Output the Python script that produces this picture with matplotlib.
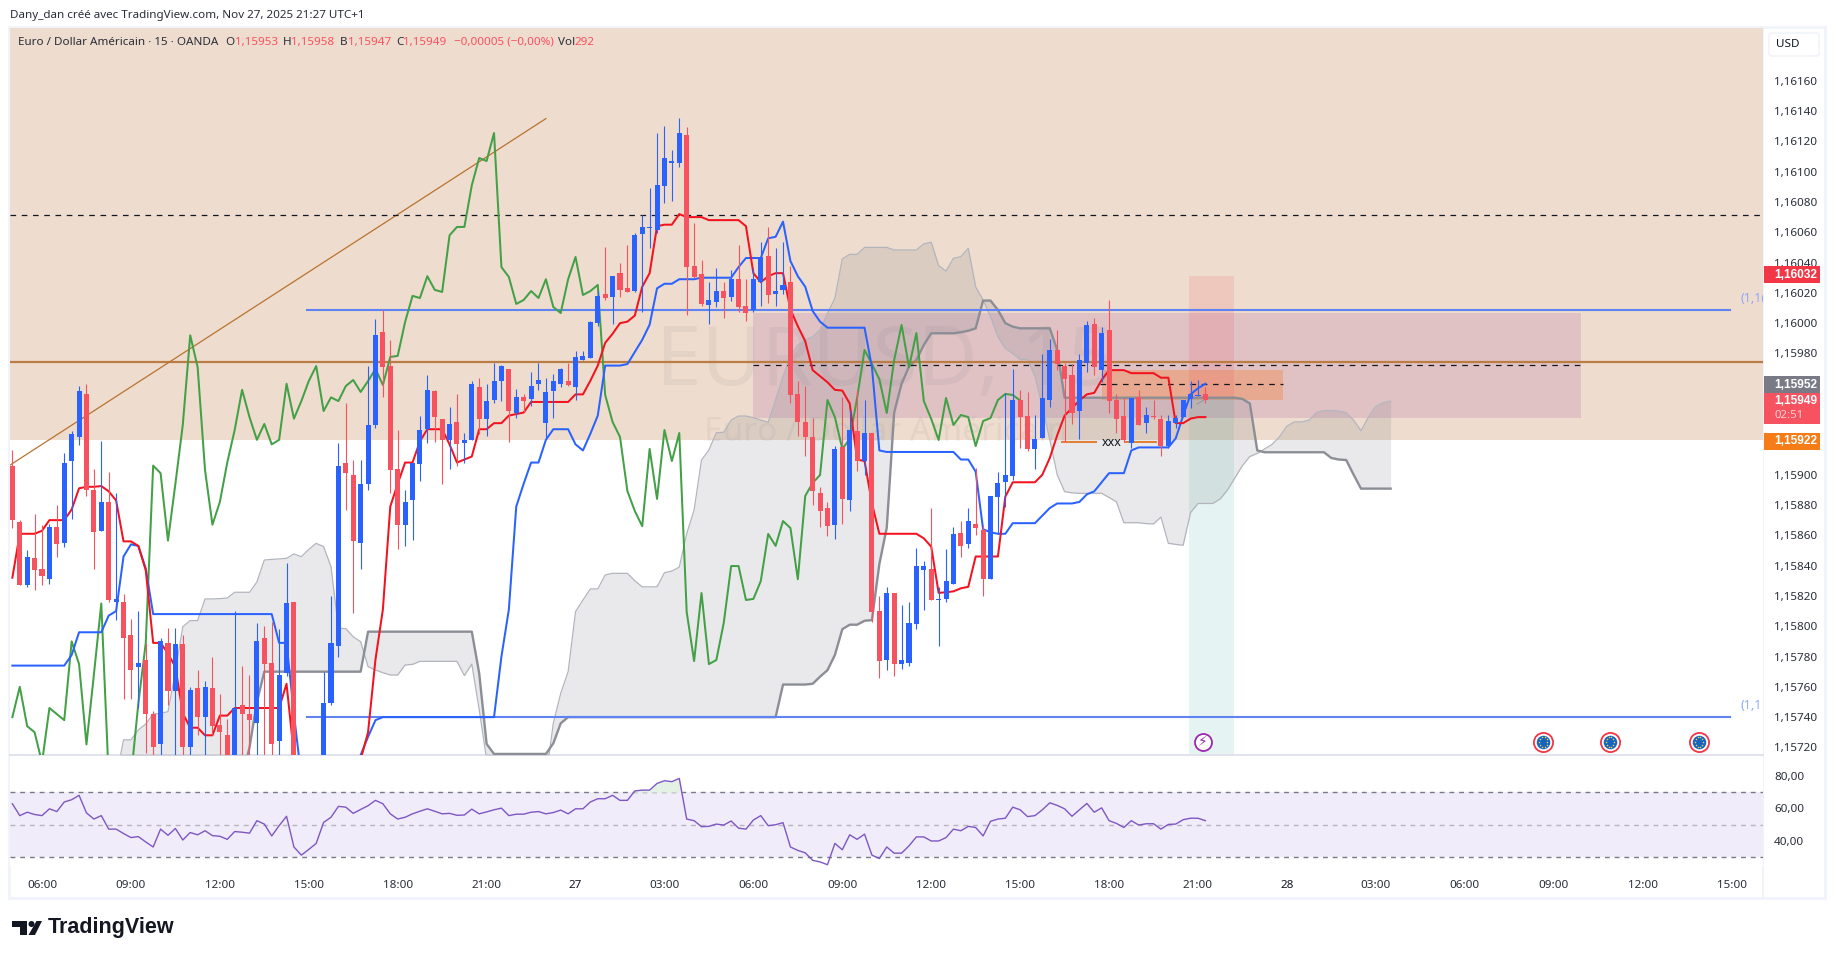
import matplotlib
matplotlib.use("Agg")
import matplotlib.pyplot as plt
import numpy as np
from matplotlib.patches import Rectangle, Polygon, Circle, FancyBboxPatch

plt.rcParams["font.family"] = ["Noto Sans", "DejaVu Sans"]

# prices are in points: 15906 means 1,15906. First bar is index -4, index 0 is 06:00
opens = [15906, 15869, 15827, 15845, 15838, 15831, 15865.5, 15855, 15909, 15925,
         15953, 15890, 15863, 15882, 15816, 15816, 15794, 15773, 15778, 15742,
         15722, 15789, 15757, 15788, 15720, 15759, 15740, 15759, 15735, 15728,
         15710, 15748, 15742, 15736, 15792, 15776, 15724, 15769, 15816, 15700,
         15690, 15695, 15700, 15749, 15787, 15908, 15900, 15855, 15894, 15933,
         15994, 15972, 15904, 15867, 15883, 15907, 15930, 15955, 15937, 15923,
         15935, 15921, 15923, 15958, 15937, 15949, 15962, 15970, 15941, 15951,
         15950, 15960, 15934, 15955, 15960, 15962, 15958, 15976, 15977, 16000,
         16019, 16017, 16033, 16023, 16021, 16059, 16063, 16061.5, 16090.5, 16106,
         16106, 16124, 16038, 16032.5, 16012, 16014, 16021, 16017, 16029, 16011,
         16009, 16027, 16044, 16019, 16022, 16027, 15953, 15935, 15925, 15888,
         15878, 15867, 15918, 15883, 15929, 15909, 15927.5, 15810, 15778, 15822,
         15775, 15776, 15801.5, 15837, 15838, 15817, 15818, 15828, 15861.5, 15854,
         15867.5, 15863.5, 15831, 15885, 15895, 15899, 15949, 15939, 15917, 15924,
         15949, 15982, 15972, 15966, 15942, 15974, 15999.5, 15969, 15995.5, 15949,
         15939, 15921, 15951, 15934, 15939, 15937, 15919, 15934, 15938, 15950, 15952, 15953]
closes = [15870, 15827, 15846, 15837, 15833, 15865.5, 15854.5, 15908, 15927, 15955,
          15890, 15862, 15882, 15817, 15818, 15792, 15771, 15776, 15742, 15720,
          15790, 15757, 15788, 15720, 15758, 15740, 15760, 15734, 15730, 15710,
          15746, 15742, 15738, 15790, 15775, 15722, 15768, 15815, 15700, 15690,
          15695, 15700, 15749, 15789, 15906, 15901, 15856.5, 15894, 15933, 15992,
          15971, 15903, 15867, 15882, 15908, 15929.5, 15956, 15938, 15923, 15933.5,
          15920, 15923, 15960, 15937, 15948.6, 15961.8, 15971.7, 15942, 15951, 15948.6,
          15958.5, 15962.5, 15954.6, 15961.8, 15969.8, 15959.2, 15977.7, 15978.4, 16000.8, 16018,
          16016.6, 16031, 16022, 16020.6, 16058, 16063.5, 16063.5, 16091, 16109, 16107,
          16125.5, 16037, 16030.5, 16012.7, 16015.3, 16021.2, 16016.6, 16029, 16010.7, 16006.7,
          16029, 16043.7, 16018.6, 16021.2, 16025.2, 15952.6, 15934.8, 15924.9, 15889.2, 15876,
          15866, 15917, 15884, 15929.5, 15909, 15927.5, 15809.4, 15777, 15821.9, 15775,
          15777.7, 15802.1, 15839.7, 15839.7, 15817.3, 15818, 15829.8, 15860.9, 15853, 15869.4,
          15864.8, 15831, 15886, 15894.5, 15899.8, 15949.3, 15938, 15917, 15923.6, 15950.6,
          15982.3, 15973, 15963, 15940.7, 15975.7, 15998.8, 15971, 15993.5, 15948.6, 15936.8,
          15922.9, 15950.6, 15932.8, 15939.4, 15938, 15918.9, 15935.4, 15937.4, 15949.3, 15953.3, 15952.6, 15949]
highs = [15916, 15870, 15850, 15874, 15867, 15867.5, 15880, 15914, 15929, 15958.5,
         15960, 15904, 15922, 15902, 15888, 15821, 15805, 15810, 15789, 15744,
         15792, 15799, 15799, 15794, 15760, 15771, 15764, 15780, 15755, 15739,
         15810, 15774, 15768, 15802, 15800, 15803, 15798, 15842, 15816, 15702,
         15697, 15702, 15770, 15820, 15921, 15947, 15910, 15910, 15972, 16002.7,
         16009, 15989, 15929.5, 15890, 15908, 15939, 15966, 15956, 15937, 15944.7,
         15953, 15927.5, 15962, 15964, 15960, 15973.7, 15972.4, 15970, 15956.6, 15953,
         15968, 15973.7, 15963.8, 15966.5, 15970.4, 15973.7, 15981.6, 15981.6, 16001.4, 16021,
         16050, 16031, 16039.7, 16051.6, 16059.5, 16071.4, 16089, 16125.5, 16130, 16114.3,
         16135.4, 16129.5, 16066, 16041.7, 16027.2, 16036.4, 16027.2, 16035, 16051.6, 16029,
         16036.4, 16053.6, 16063.5, 16049.6, 16053.6, 16037.7, 15961.8, 15958.5, 15937.4, 15891.9,
         15882, 15919, 15951.3, 15942.7, 15955.9, 15949.3, 15927.5, 15820, 15825.9, 15821.9,
         15814, 15816, 15851.6, 15843, 15878, 15825.9, 15851, 15865.5, 15869.4, 15878,
         15904.4, 15866.8, 15886, 15901.8, 15953.7, 15969.8, 15955.9, 15954.6, 15939.4, 15979.7,
         15989.6, 15995.5, 15973.7, 15973, 15979.7, 16001.4, 16003.4, 15997.5, 16015.3, 15953.3,
         15950.6, 15950.6, 15955.9, 15944.7, 15949.3, 15939.4, 15939.4, 15939.4, 15949.3, 15961.8, 15962.5, 15958]
lows = [15865, 15827, 15826, 15824, 15827, 15828, 15846, 15852, 15871, 15919.6,
        15886, 15838, 15863, 15816, 15804, 15752, 15752, 15746, 15716, 15715,
        15715, 15748, 15715, 15715, 15715, 15728, 15715, 15728, 15715, 15705,
        15705, 15710, 15710, 15710, 15710, 15710, 15710, 15767, 15695, 15685,
        15685, 15690, 15695, 15748, 15780, 15877, 15809, 15838, 15890, 15931,
        15951, 15888, 15851, 15853, 15857, 15896, 15921, 15921.6, 15894, 15904,
        15905.7, 15907.7, 15923, 15927, 15925.5, 15947, 15948.6, 15921.6, 15937.4, 15941.4,
        15945.3, 15956, 15923.6, 15937.4, 15957.9, 15958.5, 15949.3, 15975.7, 15977, 15998,
        16015.3, 15999.5, 16017, 16020.6, 16020.6, 16007.4, 16049.6, 16059.5, 16079.3, 16080.6,
        16103.1, 16005.4, 16030, 16011.3, 15999.5, 16010.7, 16003.4, 16014.6, 16007.4, 16001.4,
        16007.4, 16011.3, 16013.3, 16011.3, 16019.3, 15947.3, 15925.5, 15912.3, 15880, 15865.5,
        15859.5, 15857.6, 15867.5, 15876, 15902.4, 15899.8, 15802.8, 15765.8, 15771, 15767,
        15771.8, 15773.7, 15798, 15810.7, 15817.3, 15786.9, 15816, 15827.9, 15845.7, 15851.6,
        15860, 15820, 15831, 15860.9, 15878.9, 15896.5, 15917.6, 15915.6, 15903.8, 15924.2,
        15944.7, 15969.1, 15921.6, 15933.5, 15923.6, 15967.8, 15965.8, 15961.2, 15940.7, 15927.5,
        15921.6, 15917.6, 15932.8, 15927.5, 15936.8, 15912.3, 15917.6, 15930.8, 15938, 15944, 15952, 15947]

tenkan = [15832, 15861, 15861, 15861, 15863, 15870, 15870, 15870, 15877, 15891,
          15892, 15892, 15892.5, 15889, 15883, 15856, 15856, 15853, 15837, 15789,
          15789, 15782, 15773, 15742.5, 15733, 15733, 15728, 15728, 15741, 15741,
          15746, 15746, 15746, 15746, 15746, 15746, 15746, 15762, 15715, 15700,
          15700, 15700, 15700, 15700, 15700, 15700, 15700, 15712, 15730, 15778,
          15811, 15879, 15894, 15908, 15908, 15922, 15930, 15930, 15930, 15920,
          15908, 15910, 15912, 15930, 15930, 15934, 15934, 15939, 15940, 15941,
          15948, 15948, 15948, 15948, 15948, 15948, 15953, 15953, 15962, 15972,
          15987, 15993, 16000, 16001, 16005, 16024, 16033, 16064, 16065, 16065,
          16072, 16070, 16070, 16070, 16068, 16068, 16068, 16068, 16068, 16064,
          16033, 16027, 16031, 16033, 16033, 16009, 15998, 15988, 15969, 15965,
          15961, 15956, 15955.5, 15947, 15910, 15909, 15881, 15861, 15861, 15861,
          15861, 15861, 15861, 15858, 15852.5, 15822, 15822.4, 15823, 15825, 15826,
          15846, 15846, 15846, 15846, 15885.5, 15895, 15895, 15895, 15895, 15900,
          15911, 15926, 15939, 15944, 15949, 15953, 15954, 15962.5, 15969, 15969,
          15969, 15967, 15967, 15967, 15967, 15964, 15964, 15934, 15934, 15937, 15938, 15938]
kijun = [15774, 15774, 15774, 15774, 15774, 15774, 15774, 15774, 15781, 15796,
         15796, 15796, 15796, 15807, 15810, 15846, 15854, 15853, 15838] + [15808] * 17 + [
         15789, 15789, 15742] + [15700] * 8 + [15715, 15727, 15738] + [15740] * 16 + [
         15780, 15811, 15879, 15894, 15908, 15908, 15923, 15930, 15930, 15930,
         15920, 15916, 15927, 15939, 15972, 15972, 15972, 15973, 15981, 15989,
         15999, 16023, 16026, 16026, 16029, 16029, 16029, 16030, 16030, 16030,
         16030, 16030, 16037, 16043, 16043, 16043, 16056, 16057, 16067, 16041,
         16031, 16024, 16008, 16001, 15997, 15997, 15997, 15997, 15997, 15997,
         15971, 15916] + [15915] * 10 + [
         15910, 15910, 15902, 15864, 15862, 15861, 15861, 15868, 15868, 15868,
         15868, 15873, 15878, 15881, 15881, 15881, 15882, 15887, 15889, 15895,
         15901, 15901, 15901, 15916, 15918, 15918, 15918, 15918, 15918, 15924,
         15939, 15953, 15957, 15960]

# cloud spans start at index 9 and run 25 bars past the last candle
span_a = [15690, 15700, 15725, 15725, 15731.5, 15735.5, 15742, 15742.5, 15743.6, 15770,
          15799.7, 15803.7, 15803.7, 15818, 15818, 15818.2, 15818.6, 15822.4, 15822.4, 15822.4,
          15829.2, 15843.7, 15844.1, 15844.4, 15844.8, 15847.7, 15845.9, 15850.7, 15854.7, 15852.5,
          15839.3, 15798.6, 15798.4, 15793, 15789.8, 15773.3, 15771.1, 15769.3, 15767.8, 15767.8,
          15774.4, 15774.8, 15776.8, 15776.8, 15776.8, 15776.8, 15776.8, 15776.8, 15767.4, 15775,
          15745, 15712, 15700, 15700, 15700, 15700, 15700, 15700, 15700, 15700,
          15735.9, 15755.7, 15770, 15809.6, 15817.3, 15824.6, 15824.6, 15833.8, 15834.9, 15834.9,
          15834.9, 15830, 15826, 15826, 15826, 15835.3, 15836.4, 15839, 15861, 15876.7,
          15909.7, 15916.3, 15927.7, 15928, 15936, 15938.7, 15938.7, 15937.6, 15936, 15934.6,
          15949.3, 15964.7, 15977.9, 15985.6, 15988.9, 15991, 15995.5, 16006.5, 16016.4, 16042.4,
          16045.4, 16045.4, 16050, 16050, 16050, 16050, 16048.3, 16048.3, 16048.3, 16048.3,
          16052.3, 16053.4, 16038, 16034.4, 16042.8, 16043.9, 16049.4, 16024, 16015.3, 16004.3,
          15991, 15983.4, 15980, 15976, 15976, 15965, 15945, 15923, 15900, 15888.8,
          15888, 15887.7, 15887.7, 15887.7, 15887.7, 15885, 15882, 15868.3, 15868.3, 15868.3,
          15867.7, 15867.5, 15872, 15854.7, 15854, 15853.4, 15875, 15881, 15881, 15881,
          15884, 15890, 15898, 15906, 15912, 15914, 15917, 15920, 15925, 15932,
          15934.8, 15934.8, 15936, 15941, 15942.3, 15942.3, 15942, 15940.9, 15936, 15929,
          15938, 15945, 15947.5, 15948.6]
span_b = [15690] * 18 + [15700, 15720, 15750] + [15770] * 14 + [15796.4] * 15 + [
          15768.9, 15722.3] + [15715.7] * 8 + [15722.7, 15735.9] + [15740] * 29 + [
          15761.5, 15761.5, 15761.5, 15761.5, 15762, 15766.7, 15771, 15781, 15798, 15801,
          15801, 15803.6, 15804, 15841, 15865, 15941, 15960, 15971.3, 15975.7, 15985.6,
          15993.3, 15993.3, 15993.3, 15993.3, 15994, 15995, 15996.6, 16014.9, 16014.9, 16008.7,
          16000, 15997.7, 15996.6, 15996.6, 15996.6, 15996.6, 15996.6, 15982.3] + [15950.8] * 24 + [
          15950, 15947, 15916] + [15914.8] * 9 + [15911, 15910, 15909.7, 15900] + [15890.8] * 5

rsi = [62.9, 55.6, 57.7, 56.3, 55.6, 59.8, 58.1, 64, 65.4, 68.1,
       57.3, 53.5, 55.6, 47.3, 47.3, 44.6, 42.1, 42.7, 39.4, 36.3,
       47.3, 43.5, 47.7, 40.6, 45.2, 43.8, 46.3, 43.3, 42.9, 41,
       45.8, 45.4, 44.8, 52.5, 50.4, 43.1, 49.4, 55.2, 36.3, 31.3,
       34.8, 38.5, 51.4, 54.6, 61.3, 60.8, 57, 59.4, 61.7, 65,
       62.9, 56.7, 53.5, 54.6, 56.7, 58.3, 59.8, 58.3, 56.7, 57,
       55.8, 56, 59.6, 56.7, 57.9, 59.2, 60.2, 55.6, 56.5, 56.5,
       57.7, 58.1, 56.7, 57.5, 59, 56.7, 59.8, 59.8, 64, 66,
       66, 68.1, 65, 65, 70.8, 71.3, 71.3, 75.4, 77.1, 76.5,
       78.5, 53.5, 52.5, 48.8, 49, 50.4, 49.8, 52.3, 47.9, 47.3,
       52.9, 55.6, 49.4, 50, 51.3, 36.3, 34.2, 32.7, 28.1, 27.1,
       25.4, 38.5, 34.6, 43.8, 41, 44.2, 31.3, 29.2, 36.3, 32.5,
       32.5, 37, 42.5, 42.5, 40, 40, 42.1, 47.3, 46.3, 49,
       48.3, 43.1, 52.1, 53.5, 54, 60.8, 59.2, 55, 55.6, 59.2,
       63.5, 61.9, 59.8, 55.2, 59.2, 63.1, 57.7, 60.4, 52.5, 50.8,
       48.3, 52.5, 49.8, 50.6, 50.6, 47.3, 50.2, 50.4, 53.1, 54, 54, 52.5]

first_bar = -4
chikou_shift = 25
span_start = 9

price_ticks = [15720, 15740, 15760, 15780, 15800, 15820, 15840, 15860, 15880, 15900,
               15980, 16000, 16020, 16040, 16060, 16080, 16100, 16120, 16140, 16160]
rsi_ticks = [40, 60, 80]
time_ticks = list(range(0, 229, 12))
time_labels = ["06:00", "09:00", "12:00", "15:00", "18:00", "21:00", "27", "03:00", "06:00", "09:00",
               "12:00", "15:00", "18:00", "21:00", "28", "03:00", "06:00", "09:00", "12:00", "15:00"]

# drawn levels and zones, (price, first bar, last bar)
top_price = 16194.8
bottom_price = 15715
band_bottom = 15922.9
brown_level = 15974.5
trend_bars = [-4.3, 68]
trend_prices = [15906.4, 16135]
dash_top = 16071.2
dash_mid = (15972.4, 95.9, 207.7)
dash_low = (15959.6, 142.8, 167.5)
blue_levels = [16009, 15740]
blue_span = (35.8, 227.8)
pink_zone = (15937.6, 16006.9, 95.9, 207.7)
orange_zone = (15949.3, 15969, 143, 167.5)
trade_bars = (154.8, 160.9)
trade_top = 16031
trade_entry = 15950.5
xxx_level = 15921.6
xxx_segments = [(137.7, 142.3), (146.1, 150.4)]
xxx_bar = 144.3
event_price = 15723.6
lightning_bar = 156.7
euro_bars = [202.6, 211.6, 223.6]

BLUE = "#2962ff"
RED = "#f7525f"


def make_axes(fig, x0, y0, x1, y1):
    # pixel box of the reference, y counted from the top
    return fig.add_axes([x0 / 1835, 1 - y1 / 958, (x1 - x0) / 1835, (y1 - y0) / 958])


def badge(ax, top, height, text, color, sub=None):
    # top and height in price points, the scale stacks these so they do not collide
    trans = ax.get_yaxis_transform()
    ax.add_patch(Rectangle((1.0005, top - height), 0.032, height, color=color, lw=0,
                           transform=trans, clip_on=False, zorder=20))
    ax.text(1.0065, top - 5.5, text, color="white", fontsize=8.6, family="Liberation Sans", weight="bold",
            va="center", ha="left", transform=trans, clip_on=False, zorder=21)
    if sub:
        ax.text(1.0065, top - 15, sub, color="#ffd0d4", fontsize=8.2, va="center", ha="left",
                transform=trans, clip_on=False, zorder=21)


fig = plt.figure(figsize=(18.35, 9.58), dpi=100, facecolor="white")
ax = make_axes(fig, 10, 28, 1763, 755)
ax_rsi = make_axes(fig, 10, 756, 1763, 866)

bars = np.arange(first_bar, first_bar + len(closes))
o = np.array(opens)
c = np.array(closes)

# zones and levels sit under everything else
ax.axhspan(band_bottom, top_price, color="#eedcce", lw=0, zorder=1)
ax.add_patch(Rectangle((pink_zone[2], pink_zone[0]), pink_zone[3] - pink_zone[2], pink_zone[1] - pink_zone[0],
                       color=(168 / 255, 90 / 255, 156 / 255), alpha=0.2, lw=0, zorder=2))
ax.add_patch(Rectangle((orange_zone[2], orange_zone[0]), orange_zone[3] - orange_zone[2],
                       orange_zone[1] - orange_zone[0], color="#f57c30", alpha=0.35, lw=0, zorder=2.1))
ax.add_patch(Rectangle((trade_bars[0], trade_entry), trade_bars[1] - trade_bars[0], trade_top - trade_entry,
                       color="#f23645", alpha=0.12, lw=0, zorder=2.2))
ax.add_patch(Rectangle((trade_bars[0], bottom_price), trade_bars[1] - trade_bars[0], trade_entry - bottom_price,
                       color="#089981", alpha=0.1, lw=0, zorder=2.2))

ax.text(0.499, 0.539, "EURUSD, 15", transform=ax.transAxes, fontsize=59, color="#787b86", alpha=0.09,
        ha="center", va="center", zorder=2.5)
ax.text(0.4995, 0.444, "Euro / Dollar Américain", transform=ax.transAxes, fontsize=24, color="#787b86",
        alpha=0.09, ha="center", va="center", zorder=2.5)

# ichimoku cloud
span_x = np.arange(span_start, span_start + len(span_a))
ax.fill_between(span_x, span_a, span_b, color="#787b86", alpha=0.16, lw=0, zorder=3)
ax.plot(span_x, span_a, color="#b2b5be", lw=0.9, zorder=3.1)
ax.plot(span_x, span_b, color="#8c8e96", lw=1.7, zorder=3.2)

ax.axhline(brown_level, color="#bc7d45", lw=1.6, zorder=3.5)
ax.plot(trend_bars, trend_prices, color="#b8732f", lw=0.9, zorder=3.5)
ax.axhline(dash_top, color="#131722", lw=0.9, dashes=(4.5, 4.5), zorder=3.5)
for level, start, end in (dash_mid, dash_low):
    ax.plot([start, end], [level, level], color="#131722", lw=0.9, dashes=(4.5, 4.5), zorder=3.6)
for level in blue_levels:
    ax.plot(blue_span, [level, level], color="#5f83f2", lw=1.5, zorder=3.6)
for start, end in xxx_segments:
    ax.plot([start, end], [xxx_level, xxx_level], color="#e07f2e", lw=1.4, zorder=3.6)
ax.text(xxx_bar, xxx_level - 0.6, "xxx", fontsize=9, color="#131722", ha="center", va="center", zorder=9)

# indicator lines
ax.plot(bars[:-chikou_shift], closes[chikou_shift:], color="#43a047", lw=1.45, zorder=4)
ax.plot(bars, kijun, color=BLUE, lw=1.45, zorder=4.2)
ax.plot(bars, tenkan, color="#f2131f", lw=1.45, zorder=4.3)

# candles on top of the lines
colors = [BLUE if up else RED for up in c >= o]
ax.vlines(bars, lows, highs, colors=colors, lw=0.8, zorder=6)
ax.bar(bars, np.abs(c - o), bottom=np.minimum(o, c), width=0.68, color=colors, lw=0, zorder=7)
ax.plot([155.9, 156.8], [15946.7, 15949.3], color="#9598a1", lw=0.8, zorder=8)

# economic events along the bottom of the pane
ax.scatter([lightning_bar], [event_price], s=150, facecolor="white", edgecolor="#9c27b0", lw=1.3, zorder=9)
ax.text(lightning_bar, event_price - 0.3, "\u26a1", family="DejaVu Sans", fontsize=10, color="#9c27b0",
        ha="center", va="center", zorder=10)
ax.scatter(euro_bars, [event_price] * 3, s=190, facecolor="white", edgecolor="#f23645", lw=1.3, zorder=9)
ax.scatter(euro_bars, [event_price] * 3, s=95, color="#1565c0", lw=0, zorder=10)
star_angles = np.linspace(0, 2 * np.pi, 10, endpoint=False)
for bar in euro_bars:
    ax.scatter(bar + 0.55 * np.cos(star_angles), event_price + 3.6 * np.sin(star_angles), s=1.2,
               color="#f7d03c", lw=0, zorder=11)

ax.set_xlim(-4.32, 232.25)
ax.set_ylim(bottom_price, top_price)
ax.yaxis.tick_right()
ax.set_yticks(price_ticks)
ax.set_yticklabels(["1,%05d" % p for p in price_ticks], fontsize=8.4, color="#2a2e39")
ax.tick_params(axis="y", length=0, pad=8)
ax.set_xticks([])
for side in ("top", "left", "right"):
    ax.spines[side].set_visible(False)
ax.spines["bottom"].set_color("#e0e3eb")
ax.spines["bottom"].set_linewidth(1.4)

# price badges on the scale
badge(ax, 16037.5, 11, "1,16032", "#f23645")
badge(ax, 15927.5, 11, "1,15922", "#f57c17")
badge(ax, 15965, 11, "1,15952", "#787b86")
badge(ax, 15954, 20.5, "1,15949", RED, sub="02:51")

for level, text in zip(blue_levels, ("(1,1(", "(1,1")):
    note = ax.annotate(text, (blue_span[1], level), xytext=(7.5, 3.5), textcoords="offset points", fontsize=9,
                       color="#8ea8f5", va="bottom", annotation_clip=False, zorder=5)
    note.set_clip_on(True)
    note.set_clip_box(ax.bbox)

# RSI pane
ax_rsi.axhspan(30, 70, color="#f0ecf9", lw=0, zorder=1)
ax_rsi.axhline(70, color="#787b86", lw=1, dashes=(3.5, 3.5), zorder=2)
ax_rsi.axhline(50, color="#b7b4c0", lw=1, dashes=(3.5, 3.5), zorder=2)
ax_rsi.axhline(30, color="#787b86", lw=1, dashes=(3.5, 3.5), zorder=2)
rsi_arr = np.array(rsi)
ax_rsi.fill_between(bars, rsi_arr, 70, where=rsi_arr > 70, interpolate=True, color="#e4f2e6", lw=0, zorder=2.5)
ax_rsi.plot(bars, rsi, color="#7e57c2", lw=1, zorder=3)
ax_rsi.set_xlim(-4.32, 232.25)
ax_rsi.set_ylim(24.6, 92.3)
ax_rsi.yaxis.tick_right()
ax_rsi.set_yticks(rsi_ticks)
ax_rsi.set_yticklabels(["%d,00" % v for v in rsi_ticks], fontsize=8.4, color="#2a2e39")
ax_rsi.tick_params(axis="y", length=0, pad=8)
ax_rsi.set_xticks(time_ticks)
ax_rsi.set_xticklabels(time_labels, fontsize=8.4, color="#2a2e39")
for tick, label in zip(ax_rsi.get_xticklabels(), time_labels):
    if len(label) == 2:
        tick.set_fontweight("bold")
        tick.set_color("#131722")
ax_rsi.tick_params(axis="x", length=0, pad=10)
for side in ax_rsi.spines:
    ax_rsi.spines[side].set_visible(False)

# page furniture in pixel coordinates
page = fig.add_axes([0, 0, 1, 1], zorder=-1)
page.set_xlim(0, 1835)
page.set_ylim(958, 0)
page.axis("off")
page.add_patch(Rectangle((8.5, 27), 1816.5, 870.5, fill=False, ec="#f0f3fa", lw=2))
page.plot([1763, 1763], [28, 897], color="#f0f3fa", lw=1.4)
page.text(10, 15.5, "Dany_dan créé avec TradingView.com, Nov 27, 2025 21:27 UTC+1", fontsize=8.4,
          color="#2a2e39", va="center")

overlay = fig.add_axes([0, 0, 1, 1], zorder=5)
overlay.set_xlim(0, 1835)
overlay.set_ylim(958, 0)
overlay.axis("off")
overlay.patch.set_alpha(0)
legend_parts = [(18, "Euro / Dollar Américain · 15 · OANDA", "#2a2e39"),
                (225, "O", "#2a2e39"), (234.5, "1,15953", RED),
                (283, "H", "#2a2e39"), (291, "1,15958", RED),
                (340, "B", "#2a2e39"), (348, "1,15947", RED),
                (396, "C", "#2a2e39"), (403, "1,15949", RED),
                (453.5, "\u22120,00005 (\u22120,00%)", RED),
                (558, "Vol", "#2a2e39"), (574, "292", RED)]
for x, text, color in legend_parts:
    overlay.text(x, 42, text, fontsize=8.4, color=color, va="center")
overlay.add_patch(FancyBboxPatch((1769, 33), 50, 23, boxstyle="round,pad=0,rounding_size=3",
                                 fc="white", ec="#f0f3fa", lw=1.2))
overlay.text(1776, 44.5, "USD", fontsize=8.4, color="#131722", va="center")

# TradingView logo
overlay.add_patch(Polygon([(12, 921), (27, 921), (27, 935), (20, 935), (20, 927), (12, 927)], color="#131722", lw=0))
overlay.add_patch(Circle((31.5, 924), 3, color="#131722", lw=0))
overlay.add_patch(Polygon([(36.5, 921), (42, 921), (35, 935), (28.5, 935)], color="#131722", lw=0))
overlay.text(48, 928, "TradingView", fontsize=15.5, family="Liberation Sans", weight="bold", color="#131722",
             va="center")

fig.savefig("out.png", dpi=100, facecolor="white")
